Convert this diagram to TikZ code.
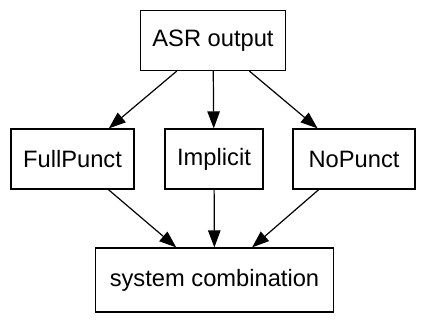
\documentclass[tikz,border=0pt]{standalone}
\usepackage{fontspec}
\setmainfont{Liberation Sans}
\usetikzlibrary{arrows.meta}

\begin{document}
\begin{tikzpicture}[x=0.5pt,y=-0.5pt,
		box/.style={draw,line width=0.6pt,inner sep=0pt,minimum height=30pt,
			font=\fontsize{11.85}{14}\selectfont},
		flow/.style={line width=0.6pt,-{Triangle[length=8.5pt,width=6.2pt]}}]
		\useasboundingbox (0,0) rectangle (427,327);
		% source and the three punctuation variants
		\node[box,minimum width=72.5pt] (asr) at (213,40.5) {ASR output};
		\node[box,minimum width=61.5pt] (full) at (72.5,159) {FullPunct};
		\node[box,minimum width=49pt] (impl) at (214,159) {Implicit};
		\node[box,minimum width=61pt] (nopunct) at (354,159) {NoPunct};
		\node[box,minimum width=119pt,minimum height=32pt] (comb) at (214.5,280) {system combination};
		\draw[flow] (asr) -- (full);
		\draw[flow] (asr) -- (impl);
		\draw[flow] (asr) -- (nopunct);
		\draw[flow] (full) -- (comb);
		\draw[flow] (impl) -- (comb);
		\draw[flow] (nopunct) -- (comb);
	\end{tikzpicture}
\end{document}
